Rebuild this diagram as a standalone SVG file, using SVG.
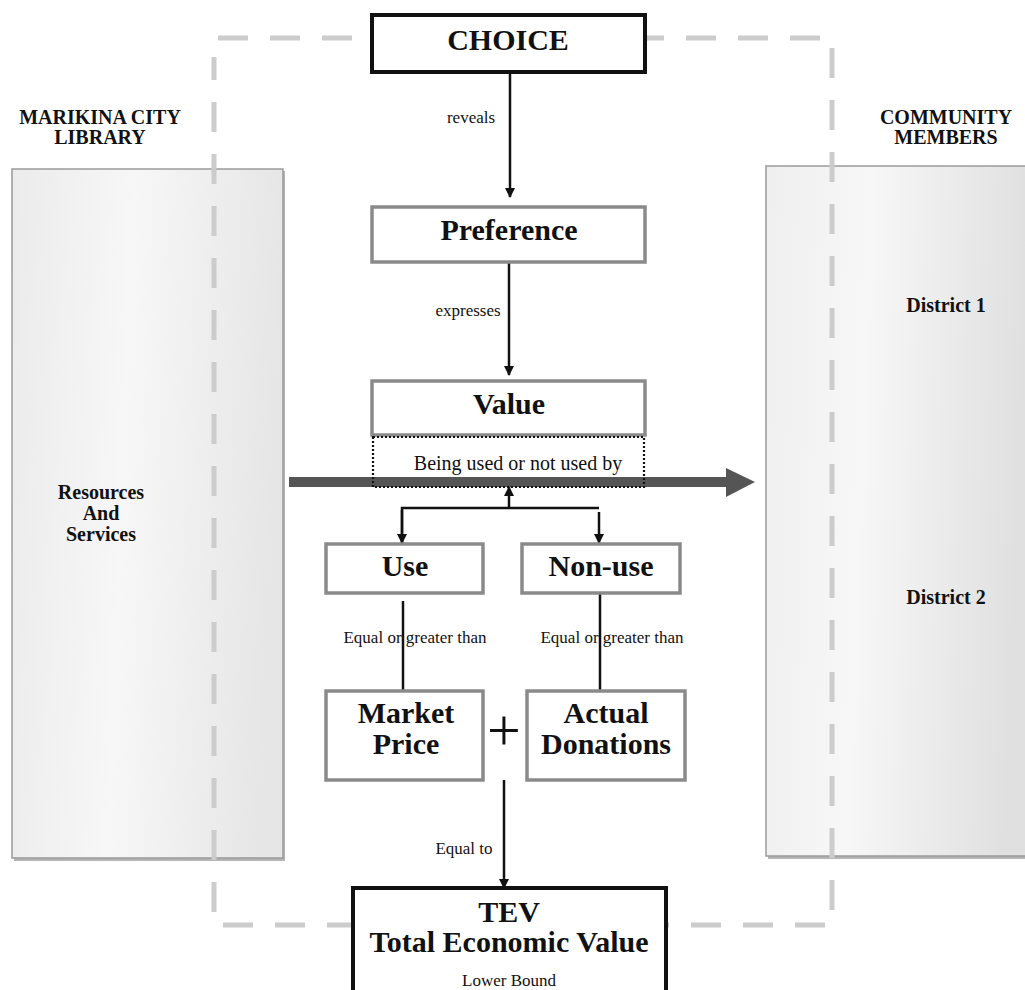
<svg xmlns="http://www.w3.org/2000/svg" width="1025" height="990" viewBox="0 0 1025 990">
<style>
  text { font-family: "Liberation Serif", "Times New Roman", serif; fill: #111; text-anchor: middle; }
  .h { font-weight: bold; font-size: 30px; }
  .side { font-weight: bold; font-size: 20px; }
  .lbl { font-size: 17px; }
  .box { fill: #fff; stroke: #8a8a8a; stroke-width: 3.5; }
  .bbox { fill: #fff; stroke: #111; stroke-width: 4; }
  .conn { stroke: #111; stroke-width: 2.5; fill: none; }
  .dash { fill: none; stroke: #cccccc; stroke-width: 5; stroke-dasharray: 30 22; }
  .panel { stroke: #9a9a9a; stroke-width: 1.5; }
</style>
<defs>
  <marker id="arr" viewBox="0 0 10 10" refX="9" refY="5" markerWidth="4" markerHeight="4" orient="auto" markerUnits="strokeWidth">
    <path d="M0,0 L10,5 L0,10 z" fill="#111"/>
  </marker>
  <linearGradient id="gl" x1="0" y1="0" x2="1" y2="0.1">
    <stop offset="0" stop-color="#ebebeb"/>
    <stop offset="0.45" stop-color="#f7f7f7"/>
    <stop offset="1" stop-color="#e6e6e6"/>
  </linearGradient>
  <linearGradient id="gr" x1="0" y1="0" x2="1" y2="0.1">
    <stop offset="0" stop-color="#efefef"/>
    <stop offset="0.4" stop-color="#f7f7f7"/>
    <stop offset="1" stop-color="#e0e0e0"/>
  </linearGradient>
</defs>

<g id="panel-library">
  <rect x="14" y="171" width="271" height="690" fill="#b5b5b5"/>
  <rect class="panel" x="12" y="169" width="271" height="689" fill="url(#gl)"/>
  <text class="side" x="100" y="124">MARIKINA CITY</text>
  <text class="side" x="100" y="144">LIBRARY</text>
  <text class="side" x="101" y="499">Resources</text>
  <text class="side" x="101" y="520">And</text>
  <text class="side" x="101" y="541">Services</text>
</g>

<g id="panel-community">
  <rect x="768" y="168" width="262" height="691" fill="#b5b5b5"/>
  <rect class="panel" x="766" y="166" width="262" height="690" fill="url(#gr)"/>
  <text class="side" x="946" y="124">COMMUNITY</text>
  <text class="side" x="946" y="144">MEMBERS</text>
  <text class="side" x="946" y="312">District 1</text>
  <text class="side" x="946" y="604">District 2</text>
</g>

<g id="boundary">
  <path class="dash" d="M218,38 H832 V925 H214 V57"/>
</g>

<g id="flow-arrow">
  <rect x="289" y="477" width="438" height="10" fill="#555"/>
  <path d="M726,468 L755,482 L726,497 z" fill="#555"/>
</g>

<g id="connectors">
  <line class="conn" x1="510" y1="72" x2="510" y2="197" marker-end="url(#arr)"/>
  <line class="conn" x1="509" y1="262" x2="509" y2="375" marker-end="url(#arr)"/>
  <line class="conn" x1="509" y1="508" x2="509" y2="487" marker-end="url(#arr)" stroke-width="2"/>
  <polyline class="conn" points="402,543 402,508 599,508"/>
  <line class="conn" x1="402" y1="510" x2="402" y2="543" marker-end="url(#arr)"/>
  <line class="conn" x1="599" y1="512" x2="599" y2="543" marker-end="url(#arr)"/>
  <line class="conn" x1="403" y1="601" x2="403" y2="690"/>
  <line class="conn" x1="600" y1="593" x2="600" y2="690"/>
  <line class="conn" x1="504" y1="780" x2="504" y2="888" marker-end="url(#arr)"/>
  <text class="lbl" x="471" y="123">reveals</text>
  <text class="lbl" x="468" y="316">expresses</text>
  <text class="lbl" x="415" y="643">Equal or greater than</text>
  <text class="lbl" x="612" y="643">Equal or greater than</text>
  <text class="lbl" x="464" y="854">Equal to</text>
</g>

<g id="choice">
  <rect class="bbox" x="372" y="15" width="273" height="57"/>
  <text class="h" x="508" y="50">CHOICE</text>
</g>

<g id="preference">
  <rect class="box" x="372" y="207" width="273" height="55"/>
  <text class="h" x="509" y="240">Preference</text>
</g>

<g id="value">
  <rect class="box" x="372" y="381" width="273" height="54"/>
  <text class="h" x="509" y="414">Value</text>
</g>

<g id="usage">
  <rect x="373" y="437" width="271" height="50" fill="none" stroke="#111" stroke-width="2.2" stroke-dasharray="2 2"/>
  <text x="518" y="470" font-size="20">Being used or not used by</text>
</g>

<g id="use">
  <rect class="box" x="326" y="544" width="157" height="49"/>
  <text class="h" x="405" y="576">Use</text>
</g>

<g id="non-use">
  <rect class="box" x="522" y="544" width="158" height="49"/>
  <text class="h" x="601" y="576">Non-use</text>
</g>

<g id="market-price">
  <rect class="box" x="326" y="691" width="157" height="89"/>
  <text class="h" x="406" y="723">Market</text>
  <text class="h" x="406" y="754">Price</text>
</g>

<g id="plus">
  <text x="504" y="750" font-size="60">+</text>
</g>

<g id="actual-donations">
  <rect class="box" x="527" y="691" width="158" height="89"/>
  <text class="h" x="606" y="723">Actual</text>
  <text class="h" x="606" y="754">Donations</text>
</g>

<g id="tev">
  <rect class="bbox" x="353" y="888" width="313" height="110"/>
  <text class="h" x="509" y="922">TEV</text>
  <text class="h" x="509" y="952">Total Economic Value</text>
  <text class="lbl" x="509" y="986">Lower Bound</text>
</g>
</svg>
